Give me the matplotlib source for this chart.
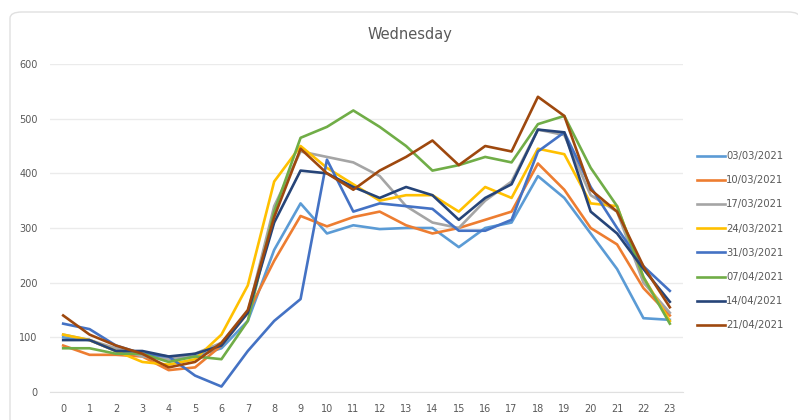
import matplotlib
matplotlib.use("Agg")
import matplotlib.pyplot as plt
from matplotlib.patches import FancyBboxPatch

hours = list(range(24))
dates = ["03/03/2021", "10/03/2021", "17/03/2021", "24/03/2021",
         "31/03/2021", "07/04/2021", "14/04/2021", "21/04/2021"]
colors = ["#5B9BD5", "#ED7D31", "#A5A5A5", "#FFC000",
          "#4472C4", "#70AD47", "#264478", "#9E480E"]

d0303 = [100, 95, 75, 70, 60, 65, 80, 130, 260, 345, 290, 305, 298, 300,
         300, 265, 300, 310, 395, 355, 290, 225, 135, 132]
d1003 = [85, 68, 68, 65, 40, 45, 85, 145, 240, 322, 303, 320, 330, 305,
         290, 300, 315, 330, 418, 370, 300, 270, 190, 140]
d1703 = [105, 95, 80, 65, 60, 70, 90, 145, 340, 440, 430, 420, 395, 340,
         310, 300, 350, 385, 480, 470, 360, 330, 200, 145]
d2403 = [105, 95, 75, 55, 50, 60, 105, 195, 385, 450, 410, 380, 350, 360,
         360, 330, 375, 355, 445, 435, 345, 340, 210, 130]
d3103 = [125, 115, 85, 70, 65, 30, 10, 75, 130, 170, 425, 330, 345, 340,
         335, 295, 295, 315, 440, 475, 375, 300, 230, 185]
d0704 = [80, 80, 70, 70, 55, 65, 60, 130, 330, 465, 485, 515, 485, 450,
         405, 415, 430, 420, 490, 505, 410, 340, 210, 125]
d1404 = [95, 95, 75, 75, 65, 70, 85, 145, 310, 405, 400, 375, 355, 375,
         360, 315, 355, 380, 480, 475, 330, 290, 225, 165]
d2104 = [140, 105, 85, 70, 45, 55, 90, 150, 320, 445, 400, 370, 405, 430,
         460, 415, 450, 440, 540, 505, 370, 330, 230, 155]
series = [d0303, d1003, d1703, d2403, d3103, d0704, d1404, d2104]

txt = "#595959"
fig = plt.figure(figsize=(7.98, 4.2), dpi=100)
# light rounded card behind the chart
card = FancyBboxPatch((10 / 798, -0.05), 0.99, 1.0 - 12 / 420 + 0.05,
                      boxstyle="round,pad=0,rounding_size=0.015",
                      transform=fig.transFigure, facecolor="white",
                      edgecolor="#E0E0E0", linewidth=1, zorder=-1)
fig.patches.append(card)

ax = fig.add_axes([50 / 798, 1 - 392 / 420, 633 / 798, 328 / 420])
for vals, lab, c in zip(series, dates, colors):
    ax.plot(hours, vals, color=c, linewidth=1.9, label=lab)

ax.set_xlim(-0.5, 23.5)
ax.set_ylim(0, 600)
ax.set_xticks(hours)
ax.set_yticks(range(0, 601, 100))
ax.grid(axis="y", color="#EBEBEB", linewidth=1)
ax.set_axisbelow(True)
for s in ["top", "right", "left"]:
    ax.spines[s].set_visible(False)
ax.spines["bottom"].set_color("#E0E0E0")
ax.tick_params(length=0, labelsize=7, colors=txt, pad=9)
ax.set_facecolor("none")

fig.text(410 / 798, 1 - 35 / 420, "Wednesday", ha="center", va="center",
         fontsize=10.5, color=txt)

fig.legend(loc="upper left", bbox_to_anchor=(692 / 798, 1 - 146 / 420),
           frameon=False, fontsize=7.2, labelcolor=txt, handlelength=2.8,
           handletextpad=0.1, labelspacing=1.42, borderpad=0)

fig.savefig("out.png", dpi=100)
